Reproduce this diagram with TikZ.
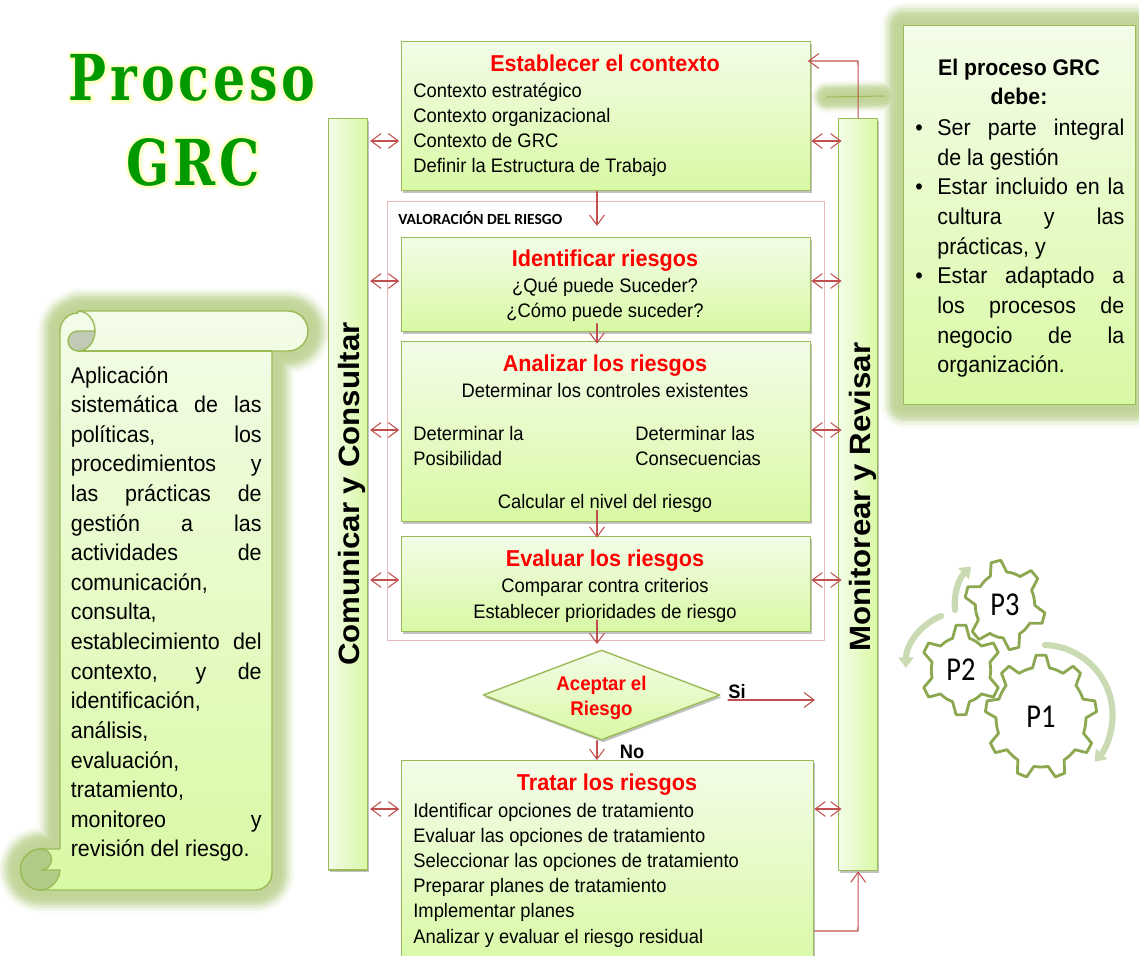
\documentclass[tikz,border=0pt]{standalone}
\usepackage{fontspec}
\setmainfont[FakeStretch=0.94]{Liberation Sans}
\newfontfamily\fuentevertical[FakeStretch=1.064]{Liberation Sans}
\newfontfamily\fuentetitulo[FakeStretch=0.8,LetterSpace=6]{DejaVu Serif}
\newfontfamily\fuentecal{Carlito}
\newfontfamily\fuenterueda[FakeStretch=0.85]{Carlito}
\usetikzlibrary{arrows.meta,shapes.geometric,shadows}
\definecolor{verdeclaro}{HTML}{F3FCE8}
\definecolor{verdefuerte}{HTML}{D8F9A4}
\definecolor{verdeborde}{HTML}{9BBB59}
\definecolor{verdeglow}{HTML}{9BBB59}
\definecolor{rojoflecha}{HTML}{C0504D}
\definecolor{rosaborde}{HTML}{E6B8B7}
\definecolor{verdearco}{HTML}{CADAB2}
\definecolor{verdertitulo}{HTML}{009900}
\definecolor{gristapa}{HTML}{C0CAB4}
\definecolor{verderollo}{HTML}{B1CC88}
\tikzset{
  capa/.style 2 args={preaction={draw=verdeglow!#2,line width=#1,line join=round,line cap=round}},
  brillo/.style={capa={26pt}{6},capa={23pt}{16},capa={20pt}{30},capa={17pt}{44},capa={14pt}{54},capa={11pt}{60},capa={6pt}{62}},
  brillofino/.style={capa={18pt}{6},capa={16pt}{16},capa={14pt}{30},capa={12pt}{44},capa={10pt}{54},capa={7pt}{60},capa={4pt}{62}},
  sombra/.style={drop shadow={shadow xshift=.9pt,shadow yshift=-1.4pt,opacity=.35,fill=black!70}},
  caja/.style={rectangle,draw=verdeborde,line width=.8pt,top color=verdeclaro,bottom color=verdefuerte,sombra,anchor=north west,inner sep=0pt},
  barra/.style={rectangle,draw=verdeborde,line width=.8pt,left color=verdeclaro,right color=verdefuerte,sombra,anchor=north west,inner sep=0pt},
  flecha/.style={draw=rojoflecha,line width=.6pt,>={Straight Barb[length=5.7pt,width=8.4pt]}},
  titular/.style={font=\fontsize{13.09}{14}\selectfont\bfseries,text=red,inner sep=0pt},
  cuerpo/.style={font=\fontsize{11.12}{14.35}\selectfont,align=left,inner sep=0pt},
  centrado/.style={cuerpo,align=center},
  vertical/.style={font=\fuentevertical\fontsize{16.7}{20}\selectfont\bfseries,rotate=90,inner sep=0pt},
  parrafo/.style={font=\fontsize{12.98}{16.85}\selectfont,align=justify,anchor=north west,inner sep=0pt},
  vineta/.style={font=\fontsize{12.98}{14}\selectfont,inner sep=0pt},
  negrita/.style={font=\fontsize{11.06}{12}\selectfont\bfseries,inner sep=0pt},
  rueda/.style={draw=verdeborde!90!black,line width=1.6pt,fill=white,line join=round},
  giro/.style={draw=verdearco,line width=3.5pt,-{Triangle[length=6pt,width=8.5pt]}},
  portada/.style={font=\fuentetitulo\fontsize{36}{44}\selectfont\bfseries,text=verdertitulo,inner sep=0pt},
}
\newcommand{\contorno}[1]{\rlap{\special{pdf:code q 1 Tr 3.4 w 1 j 1 J 1 1 .8 RG}#1\special{pdf:code Q}}#1}
\newcommand{\rotulo}[7]{%
  \pgfmathsetmacro{\punta}{57.3*5.5/#4}
  \pgfmathsetmacro{\base}{57.3*9.5/#5}
  \pgfmathsetmacro{\paso}{360/#3}
  \draw[rueda,shift={(#1,#2)},xscale=.9] ({#6-\base}:#5)
    foreach \i in {1,...,#3}{
      -- ({#6+(\i-1)*\paso-\punta}:#4) -- ({#6+(\i-1)*\paso+\punta}:#4)
      -- ({#6+(\i-1)*\paso+\base}:#5) arc[start angle={#6+(\i-1)*\paso+\base},end angle={#6+\i*\paso-\base},radius=#5]
    } -- cycle;
  \node[font=\fuenterueda\fontsize{19}{22}\selectfont,inner sep=0pt] (#7) at (#1,#2) {#7};
}

\begin{document}
\begin{tikzpicture}[x=0.02cm, y=-0.02cm, line cap=round, line join=round]
    \path[use as bounding box,clip] (0,0) rectangle (1139,956);
    % titulo
    \node[portada] (titulouno) at (192,78) {\contorno{Proceso}};
    \node[portada] (titulodos) at (193,162) {\contorno{GRC}};
    % pergamino
    \draw[brillo,draw=verdeborde,line width=.8pt,top color=verdeclaro,bottom color=verdefuerte]
      (78,311) -- (288,311) arc[start angle=-90,end angle=90,radius=20] -- (272,351) -- (272,873)
      arc[start angle=0,end angle=90,radius=17] -- (41,890) arc[start angle=90,end angle=270,radius=20.5]
      -- (60,849) -- (60,331) arc[start angle=180,end angle=270,radius=18] -- cycle;
    \draw[draw=verdeborde,line width=.8pt,fill=gristapa] (95,331) -- (78,331) arc[start angle=270,end angle=90,radius=10] arc[start angle=90,end angle=0,x radius=17,y radius=20];
    \draw[draw=verdeborde,line width=.8pt] (78,311) arc[start angle=-90,end angle=0,x radius=17,y radius=20];
    \draw[draw=verdeborde,line width=.8pt] (78,351) -- (272,351);
    \draw[draw=verdeborde,line width=.8pt,fill=verderollo] (41,849) arc[start angle=270,end angle=90,radius=20.5]
      .. controls (50,890) and (60,880) .. (60,870) -- (41,870) arc[start angle=90,end angle=-90,radius=10.5];
    \node[parrafo,text width=108.6pt] (definicion) at (70.5,366) {Aplicación\linebreak sistemática de las\linebreak políticas, los\linebreak procedimientos y\linebreak las prácticas de\linebreak gestión a las\linebreak actividades de\linebreak comunicación,\linebreak consulta,\linebreak establecimiento del\linebreak contexto, y de\linebreak identificación,\linebreak análisis,\linebreak evaluación,\linebreak tratamiento,\linebreak monitoreo y\linebreak revisión del riesgo.};
    % nota de la derecha
    \node[caja,brillo,minimum width=132pt,minimum height=215.7pt] (nota) at (903,25) {};
    \coordinate (enlaceini) at (827,97);
    \coordinate (enlacefin) at (884,96);
    \begin{scope}[blend mode=darken]
      \draw[brillofino,draw=verdeborde,line width=.6pt] (enlaceini) -- (enlacefin);
    \end{scope}
    \node[font=\fontsize{12.87}{16.85}\selectfont\bfseries,align=center,inner sep=0pt] (notatitulo) at (1019,82) {El proceso GRC\\debe:};
    \node[parrafo,text width=106.4pt] (itemuno) at (937,119) {Ser parte integral\linebreak de la gestión};
    \node[parrafo,text width=106.4pt] (itemdos) at (937,178) {Estar incluido en la\linebreak cultura y las\linebreak prácticas, y};
    \node[parrafo,text width=106.4pt] (itemtres) at (937,267) {Estar adaptado a\linebreak los procesos de\linebreak negocio de la\linebreak organización.};
    \node[vineta] (vinetauno) at (919,130) {•};
    \node[vineta] (vinetados) at (919,189) {•};
    \node[vineta] (vinetatres) at (919,278) {•};
    % barras
    \node[barra,minimum width=22.2pt,minimum height=427.5pt] (comunicar) at (328,118) {};
    \node[barra,minimum width=22.2pt,minimum height=428pt] (monitorear) at (838,118) {};
    \node[vertical] (comunicartexto) at (352,494) {Comunicar y Consultar};
    \node[vertical] (monitoreartexto) at (863,497) {Monitorear y Revisar};
    % marco de valoracion
    \node[rectangle,draw=rosaborde,line width=.7pt,anchor=north west,minimum width=248.7pt,minimum height=249.9pt] (valoracion) at (387,201) {};
    \node[font=\fuentecal\fontsize{8.8}{10}\selectfont\bfseries,anchor=west,inner sep=0pt] (valoraciontexto) at (398,218) {VALORACIÓN DEL RIESGO};
    % cajas del proceso
    \node[caja,minimum width=232.8pt,minimum height=84.8pt] (contexto) at (401,41) {};
    \node[titular] (contextotitulo) at (605,63) {Establecer el contexto};
    \node[cuerpo,anchor=west] (contextotexto) at (413,130) {Contexto estratégico\\Contexto organizacional\\Contexto de GRC\\Definir la Estructura de Trabajo};
    \node[caja,minimum width=232.8pt,minimum height=53.5pt] (identificar) at (401,237) {};
    \node[titular] (identificartitulo) at (605,261) {Identificar riesgos};
    \node[centrado] (identificartexto) at (605,300) {¿Qué puede Suceder?\\¿Cómo puede suceder?};
    \node[caja,minimum width=232.8pt,minimum height=102.5pt] (analizar) at (401,341) {};
    \node[titular] (analizartitulo) at (605,366) {Analizar los riesgos};
    \node[centrado] (analizartexto) at (605,391) {Determinar los controles existentes};
    \node[cuerpo,anchor=west] (posibilidad) at (413,446) {Determinar la\\Posibilidad};
    \node[cuerpo,anchor=west] (consecuencias) at (635,446) {Determinar las\\Consecuencias};
    \node[centrado] (nivel) at (605,503) {Calcular el nivel del riesgo};
    \node[caja,minimum width=232.8pt,minimum height=54pt] (evaluar) at (401,536) {};
    \node[titular] (evaluartitulo) at (605,561) {Evaluar los riesgos};
    \node[centrado] (evaluartexto) at (605,600.5) {Comparar contra criterios\\Establecer prioridades de riesgo};
    \node[diamond,draw=verdeborde,line width=.8pt,top color=verdeclaro,bottom color=verdefuerte,sombra,minimum width=134.9pt,minimum height=51.2pt,aspect=2.63,inner sep=0pt] (aceptar) at (601.5,695) {};
    \node[font=\fontsize{11.28}{14.2}\selectfont\bfseries,text=red,align=center,inner sep=0pt] (aceptartexto) at (601.5,698) {Aceptar el\\Riesgo};
    \node[caja,minimum width=234.5pt,minimum height=120pt] (tratar) at (401,760) {};
    \node[titular] (tratartitulo) at (607,785) {Tratar los riesgos};
    \node[cuerpo,anchor=west] (tratartexto) at (413,875) {Identificar opciones de tratamiento\\Evaluar las opciones de tratamiento\\Seleccionar las opciones de tratamiento\\Preparar planes de tratamiento\\Implementar planes\\Analizar y evaluar el riesgo residual};
    \node[negrita] (si) at (737,692) {Si};
    \node[negrita] (no) at (632,752) {No};
    % flechas dobles
    \foreach \nombre/\y in {contexto/141, identificar/281, analizar/430, evaluar/580, tratar/809}{
      \coordinate (fila) at (0,\y);
      \draw[flecha,<->,shorten <=1pt,shorten >=1pt] (comunicar.east |- fila) -- (\nombre.west |- fila);
      \draw[flecha,<->,shorten <=0pt,shorten >=-2pt] (\nombre.east |- fila) -- (monitorear.west |- fila);
    }
    % flechas del flujo
    \coordinate (eje) at (597,0);
    \coordinate (finsi) at (815,700);
    \coordinate (inisi) at (728,700);
    \coordinate (retornoalto) at (858,61);
    \coordinate (retornobajo) at (858,931);
    \draw[flecha,->,shorten >=6.3pt] (eje |- contexto.south) -- (eje |- identificar.north);
    \draw[flecha,->,shorten <=-5pt,shorten >=-1.5pt] (eje |- identificar.south) -- (eje |- analizar.north);
    \draw[flecha,->,shorten <=-7pt,shorten >=-1pt] (eje |- analizar.south) -- (eje |- evaluar.north);
    \draw[flecha,->,shorten <=-7pt,shorten >=3pt] (eje |- evaluar.south) -- (eje |- aceptar.north);
    \draw[flecha,->] (eje |- aceptar.south) -- (eje |- tratar.north);
    \draw[flecha,->] (inisi) -- (finsi);
    \draw[flecha,->,shorten >=-2pt] (monitorear.north) -- (retornoalto) -- (contexto.east |- retornoalto);
    \draw[flecha,->] (tratar.east |- retornobajo) -- (retornobajo) -- (monitorear.south);
    % engranajes
    \draw[giro] (1045,645) arc[start angle=-88,end angle=42,radius=70];
    \draw[giro] (941,616) arc[start angle=248,end angle=180,radius=56];
    \draw[giro] (955,610) arc[start angle=174,end angle=227,radius=52];
    \rotulo{1041}{717}{9}{62}{50}{-90}{P1}
    \rotulo{961}{670}{6}{45}{33}{-90}{P2}
    \rotulo{1005}{605}{6}{45}{33}{-103}{P3}
    \end{tikzpicture}
\end{document}
